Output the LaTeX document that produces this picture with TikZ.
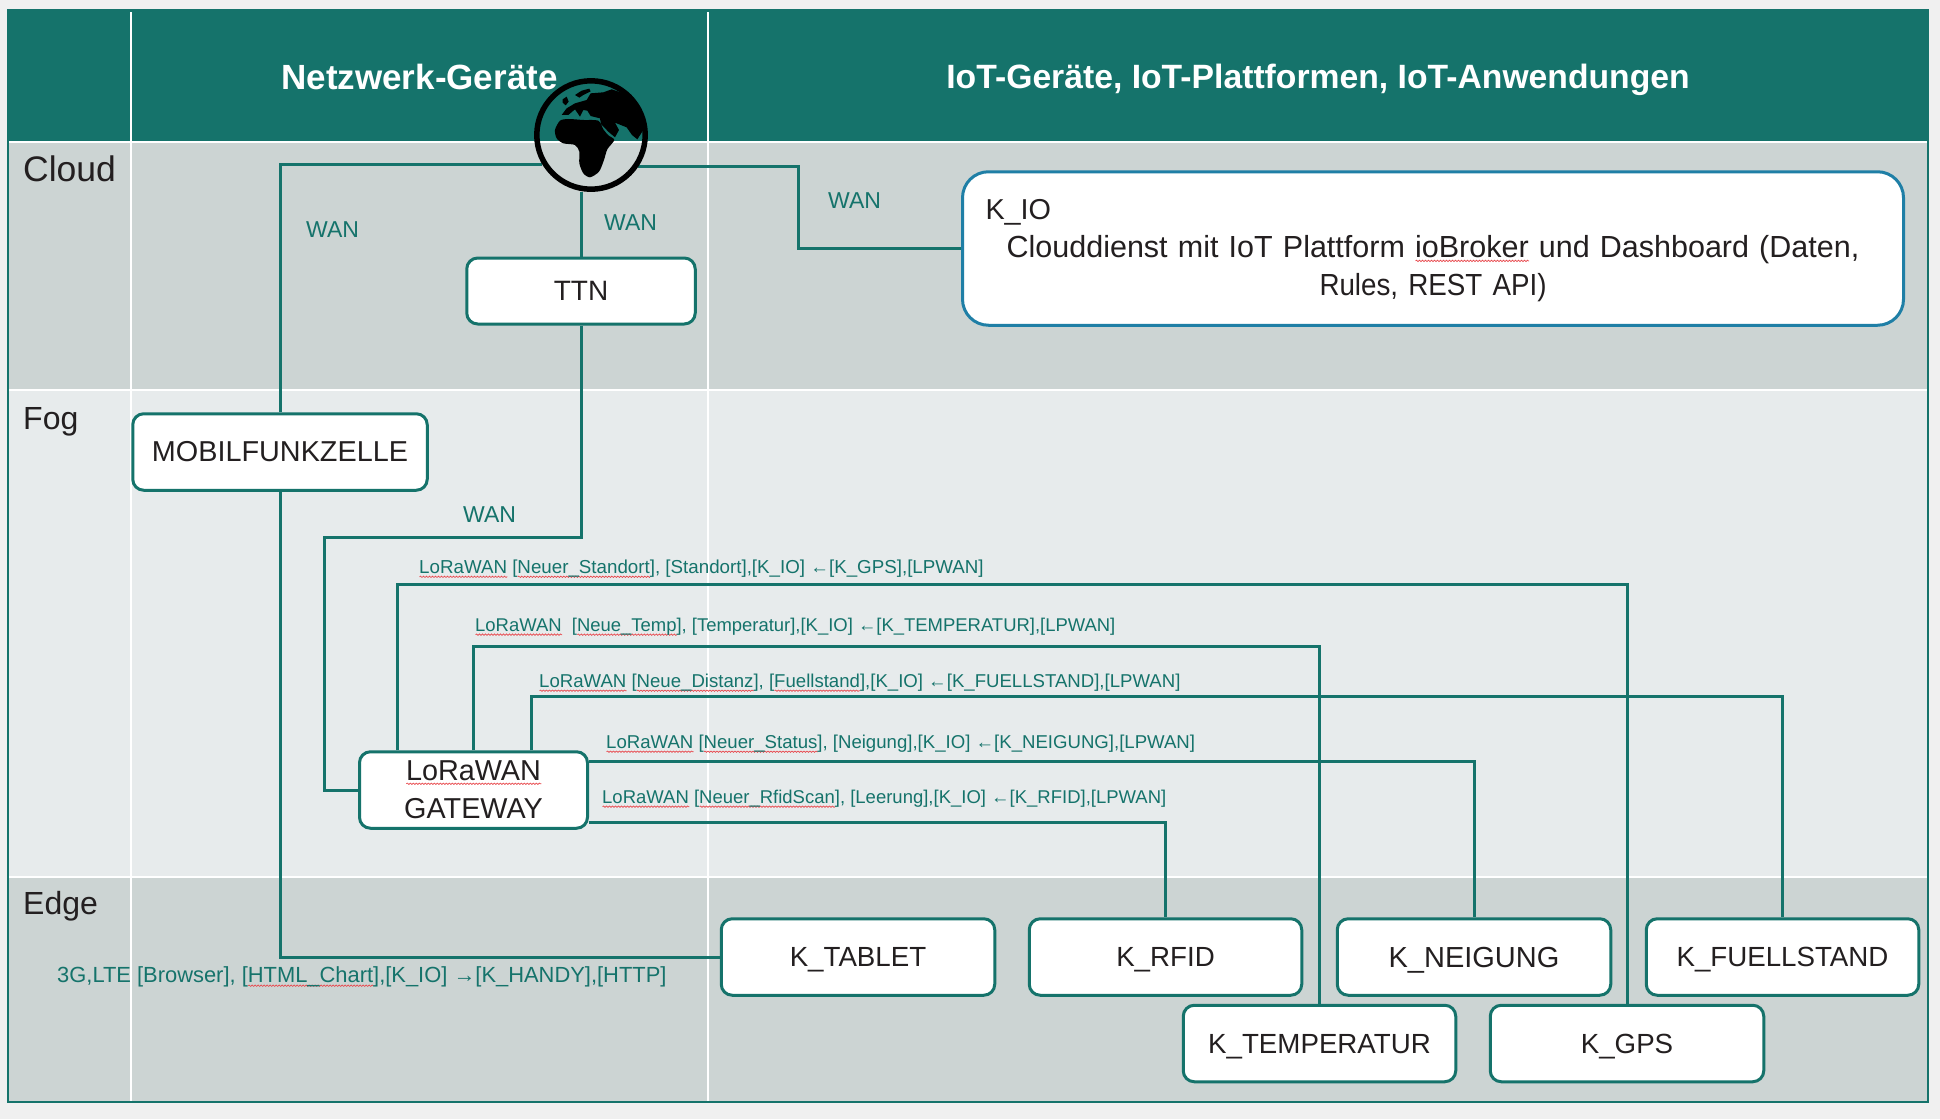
\documentclass[tikz,border=0pt]{standalone}
\usepackage{fontspec}
\setmainfont{Liberation Sans}
\newfontfamily\narrowface[FakeStretch=0.91]{Liberation Sans}
\usetikzlibrary{decorations.pathmorphing}
\definecolor{teal1}{HTML}{15736B}
\definecolor{bandA}{HTML}{CCD4D3}
\definecolor{bandB}{HTML}{E7EBEC}
\definecolor{pagebg}{HTML}{F0F0F0}
\definecolor{ink}{HTML}{231F20}
\definecolor{kioblue}{HTML}{1F7FA6}
\definecolor{squig}{HTML}{E8474C}
\newlength\sqlen
\newcommand\sq[1]{\settowidth\sqlen{#1}\rlap{\tikz[baseline=0pt]\draw[sharp corners,squig,line width=0.7pt,decorate,decoration={snake,segment length=3pt,amplitude=0.7pt}] (0pt,-3pt) -- (\sqlen,-3pt);}#1}
\tikzset{
  devbox/.style={draw=teal1,fill=white,line width=3pt,rounded corners=11pt,minimum width=#1,minimum height=76.5pt,inner sep=0pt,text=ink,font=\fontsize{28.8}{38}\selectfont,align=center},
  devbox/.default=272.5pt,
  kbox/.style={devbox=#1,font=\fontsize{27.7}{38}\selectfont,text depth=0pt},
  kbox/.default=272.5pt,
  wire/.style={draw=teal1,line width=3pt},
  rowlabel/.style={anchor=west,inner sep=0pt,text=ink,font=\fontsize{32}{38}\selectfont},
  headlabel/.style={inner sep=0pt,text=white,font=\fontsize{33.7}{38}\selectfont\bfseries},
  wanlabel/.style={anchor=west,inner sep=0pt,text=teal1,font=\fontsize{23}{28}\selectfont},
  linklabel/.style={anchor=west,inner sep=0pt,text=teal1,font=\fontsize{18.6}{22}\selectfont},
  gridline/.style={draw=white,line width=1.6pt}
}
\begin{document}
\begin{tikzpicture}[x=1pt,y=-1pt]
\useasboundingbox (0,0) rectangle (1940,1119);
\fill[pagebg] (0,0) rectangle (1940,1119);
% bands
\fill[teal1] (8,10) rectangle (1928,142);
\fill[bandA] (8,142) rectangle (1928,389);
\fill[bandB] (8,389) rectangle (1928,877);
\fill[bandA] (8,877) rectangle (1928,1102);
\draw[gridline] (131,12) -- (131,1101);
\draw[gridline] (708,12) -- (708,1101);
\draw[gridline] (8,142) -- (1928,142);
\draw[gridline] (8,390) -- (1928,390);
\draw[gridline] (8,877) -- (1928,877);
\draw[teal1,line width=2pt] (8,10) rectangle (1928,1102);
% header and row labels
\node[headlabel,font=\fontsize{35}{38}\selectfont\bfseries] (h1) at (419.5,77) {Netzwerk-Geräte};
\node[headlabel] (h2) at (1318,79.5) {IoT-Geräte, IoT-Plattformen, IoT-Anwendungen};
\node[rowlabel,font=\fontsize{35.5}{38}\selectfont] (rc) at (23,169) {Cloud};
\node[rowlabel] (rf) at (23,422) {Fog};
\node[rowlabel] (re) at (23,906.5) {Edge};
% devices
\node[devbox=228.5pt,minimum height=66pt,font=\fontsize{28}{38}\selectfont] (ttn) at (581,291) {TTN};
\node[devbox=294.5pt] (mobil) at (280,452) {MOBILFUNKZELLE};
\node[devbox=228pt] (gw) at (473.5,790) {\sq{LoRaWAN}\\GATEWAY};
\node[kbox=273.5pt] (tablet) at (858,957) {K\_TABLET};
\node[kbox] (rfid) at (1165.5,957) {K\_RFID};
\node[kbox=273.5pt,font=\fontsize{29}{38}\selectfont] (neig) at (1474,957) {K\_NEIGUNG};
\node[kbox] (fuell) at (1782.5,957) {K\_FUELLSTAND};
\node[kbox] (temp) at (1319.5,1043.5) {K\_TEMPERATUR};
\node[kbox=273.5pt] (gps) at (1627,1043.5) {K\_GPS};
\node[draw=kioblue,fill=white,line width=3pt,rounded corners=26pt,minimum height=153.5pt,minimum width=941pt,inner sep=0pt] (kio) at (1433,248.5) {};
\node[text width=895pt,inner xsep=0pt,inner ysep=0pt,text=ink,font=\fontsize{30.5}{38}\selectfont] (kiotext) at ([yshift=-2.5pt]kio.center)
  {\noindent{\fontsize{28.8}{38}\selectfont K\_IO}\par\centering Clouddienst mit IoT Plattform \sq{ioBroker} und Dashboard (Daten,\\{\narrowface Rules, REST API)}\par};
% globe anchor
\node[circle,minimum size=114pt,inner sep=0pt] (globe) at (591,135) {};
% named bends and exits
\coordinate (bA) at (798,167);
\coordinate (bB) at (324,537);
\coordinate (exGps) at ([xshift=-76.5pt]gw.north);
\coordinate (exFuell) at ([xshift=58pt]gw.north);
\coordinate (exNeig) at ([yshift=29pt]gw.east);
\coordinate (exRfid) at ([yshift=-32pt]gw.east);
\coordinate (yGps) at (1000,584.5);
\coordinate (yTemp) at (1000,646);
\coordinate (yFuell) at (1000,696.5);
% connectors
\draw[wire] (globe.211) -| (mobil.north);
\draw[wire] (mobil.south) |- (tablet.west);
\draw[wire] (globe.-34) -| (bA) |- (kio.west);
\draw[wire] (ttn.north) -- (ttn.north |- globe.south);
\draw[wire] (ttn.south) |- (bB) |- (gw.west);
\draw[wire] (exGps) |- (yGps) -| (gps.north);
\draw[wire] (gw.north) |- (yTemp) -| (temp.north);
\draw[wire] (exFuell) |- (yFuell) -| (fuell.north);
\draw[wire] (exNeig) -| (neig.north);
\draw[wire] (exRfid) -| (rfid.north);
% globe drawing
\begin{scope}
\clip (globe) circle (52pt);
\begin{scope}[shift={(500,50)},x=0.3333pt,y=-0.3333pt]
\fill[black] plot[smooth cycle,tension=0.45] coordinates {(165,240) (180,212) (205,207) (250,210) (295,212) (310,238) (325,256) (343,270) (322,298) (312,330) (297,365) (270,382) (250,370) (238,340) (238,305) (225,285) (190,280) (170,265)};
\fill[black] (335,118) -- (370,130) -- (400,160) -- (425,200) -- (430,240) -- (412,268) -- (396,255) -- (380,232) -- (345,218) -- (357,240) -- (345,262) -- (325,245) -- (303,222) -- (300,205) -- (272,198) -- (262,182) -- (250,180) -- (240,200) -- (225,178) -- (205,195) -- (185,195) -- (200,175) -- (225,160) -- (260,150) -- (272,130) -- (310,127) -- cycle;
\fill[black] (225,135) -- (245,122) -- (268,116) -- (272,124) -- (250,135) -- (238,143) -- cycle;
\fill[black] (188,148) -- (200,140) -- (206,155) -- (197,166) -- (188,158) -- cycle;
\end{scope}
\end{scope}
\draw[black,line width=5.5pt] (globe) circle (54.2pt);
% connector labels
\node[wanlabel] (w1) at (306,230) {WAN};
\node[wanlabel] (w2) at (604,223) {WAN};
\node[wanlabel] (w3) at (828,201) {WAN};
\node[wanlabel] (w4) at (463,515) {WAN};
\node[linklabel,font=\fontsize{18.75}{22}\selectfont] (l1) at (419,569) {\sq{LoRaWAN} [\sq{Neuer\_Standort}], [Standort],[K\_IO] ←[K\_GPS],[LPWAN]};
\node[linklabel,font=\fontsize{18.45}{22}\selectfont] (l2) at (475,627) {\sq{LoRaWAN}\ \ [\sq{Neue\_Temp}], [Temperatur],[K\_IO] ←[K\_TEMPERATUR],[LPWAN]};
\node[linklabel] (l3) at (539,683) {\sq{LoRaWAN} [\sq{Neue\_Distanz}], [\sq{Fuellstand}],[K\_IO] ←[K\_FUELLSTAND],[LPWAN]};
\node[linklabel] (l4) at (606,744) {\sq{LoRaWAN} [\sq{Neuer\_Status}], [Neigung],[K\_IO] ←[K\_NEIGUNG],[LPWAN]};
\node[linklabel,font=\fontsize{18.5}{22}\selectfont] (l5) at (602,799) {\sq{LoRaWAN} [\sq{Neuer\_RfidScan}], [Leerung],[K\_IO] ←[K\_RFID],[LPWAN]};
\node[wanlabel,font=\fontsize{21.9}{28}\selectfont] (l6) at (57,977) {3G,LTE [Browser], [\sq{HTML\_Chart}],[K\_IO] →[K\_HANDY],[HTTP]};
\end{tikzpicture}
\end{document}
